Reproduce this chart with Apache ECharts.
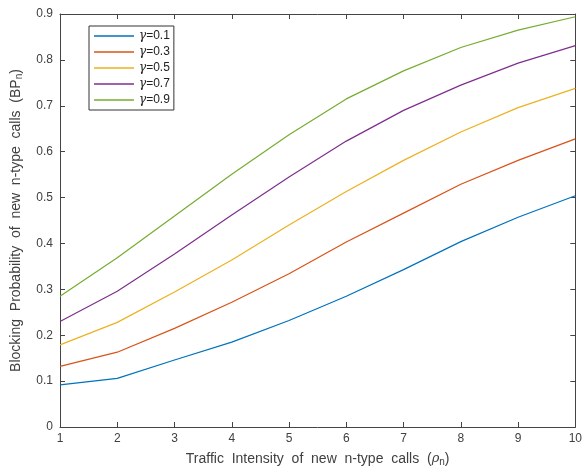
<!DOCTYPE html>
<html><head><meta charset="utf-8">
<script src="https://cdn.jsdelivr.net/npm/echarts@6/dist/echarts.min.js"></script>
<style>html,body{margin:0;padding:0;background:#fff}#c{width:585px;height:472px}</style>
</head><body><div id="c"></div>
<script>
var xValues = [1,2,3,4,5,6,7,8,9,10];
var gamma01 = [0.092,0.106,0.146,0.185,0.232,0.285,0.343,0.404,0.457,0.504];
var gamma03 = [0.132,0.163,0.215,0.272,0.334,0.403,0.466,0.529,0.581,0.628];
var gamma05 = [0.179,0.228,0.294,0.364,0.440,0.513,0.581,0.643,0.696,0.738];
var gamma07 = [0.230,0.296,0.377,0.462,0.545,0.623,0.690,0.745,0.793,0.831];
var gamma09 = [0.285,0.369,0.460,0.551,0.637,0.715,0.776,0.827,0.865,0.894];
var seriesNames = ['0.1','0.3','0.5','0.7','0.9'];
var seriesData = [gamma01,gamma03,gamma05,gamma07,gamma09];
var colors = ['#0072BD','#D95319','#EDB120','#7E2F8E','#77AC30'];

var font = 'Liberation Sans, Arial, sans-serif';
var axisColor = '#444';
var labelColor = '#404040';

var series = seriesNames.map(function(n,i){
  return {
    name: n, type: 'line', symbol: 'none', showSymbol: false, smooth: false,
    lineStyle: {width: 1.2, color: colors[i]}, itemStyle:{color: colors[i]},
    data: xValues.map(function(x,j){return [x, seriesData[i][j]];})
  };
});

var chart = echarts.init(document.getElementById('c'));
chart.setOption({
  animation: false,
  color: colors,
  grid: {left: 60, right: 7, top: 14, bottom: 44},
  legend: {
    orient: 'vertical', left: 89, top: 26,
    data: seriesNames,
    icon: 'rect',
    borderColor: '#333', borderWidth: 1, borderRadius: 0,
    padding: [3, 4, 3, 5],
    itemWidth: 40, itemHeight: 1.5, itemGap: 2,
    backgroundColor: '#fff',
    formatter: function(n){ return '{g|γ}=' + n; },
    textStyle: {fontFamily: font, fontSize: 12, color: '#222', lineHeight: 14, height: 14,
      rich: {g: {fontStyle: 'italic', fontFamily: 'DejaVu Serif, serif', fontSize: 12, color: '#222'}}}
  },
  xAxis: [{
    type: 'value', min: 1, max: 10, interval: 1, position: 'bottom',
    axisLine: {show: true, onZero: false, lineStyle: {color: axisColor, width: 1}},
    axisTick: {show: true, inside: true, length: 5, lineStyle: {color: axisColor}},
    axisLabel: {color: labelColor, fontFamily: font, fontSize: 12, margin: 6},
    splitLine: {show: false},
    name: 'Traffic  Intensity  of  new  n-type  calls  ({i|ρ}{s|n})',
    nameLocation: 'middle', nameGap: 24,
    nameTextStyle: {color: labelColor, fontFamily: font, fontSize: 14,
      rich: {i: {fontStyle: 'italic', fontFamily: 'DejaVu Serif, serif', fontSize: 13, color: labelColor},
             s: {fontSize: 10, color: labelColor, fontFamily: font, padding: [6,0,0,0]}}}
  },{
    type: 'value', min: 1, max: 10, interval: 1, position: 'top',
    axisLine: {show: true, onZero: false, lineStyle: {color: axisColor, width: 1}},
    axisTick: {show: true, inside: true, length: 5, lineStyle: {color: axisColor}},
    axisLabel: {show: false}, splitLine: {show: false}
  }],
  yAxis: [{
    type: 'value', min: 0, max: 0.9, interval: 0.1, position: 'left',
    axisLine: {show: true, onZero: false, lineStyle: {color: axisColor, width: 1}},
    axisTick: {show: true, inside: true, length: 5, lineStyle: {color: axisColor}},
    axisLabel: {color: labelColor, fontFamily: font, fontSize: 12, margin: 7,
      formatter: function(v){ return String(Math.round(v*10)/10); }},
    splitLine: {show: false},
    name: 'Blocking  Probability  of  new  n-type  calls  (BP{s|n})',
    nameLocation: 'middle', nameGap: 36, nameRotate: 90,
    nameTextStyle: {color: labelColor, fontFamily: font, fontSize: 14,
      rich: {s: {fontSize: 10, color: labelColor, fontFamily: font, padding: [6,0,0,0]}}}
  },{
    type: 'value', min: 0, max: 0.9, interval: 0.1, position: 'right',
    axisLine: {show: true, onZero: false, lineStyle: {color: axisColor, width: 1}},
    axisTick: {show: true, inside: true, length: 5, lineStyle: {color: axisColor}},
    axisLabel: {show: false}, splitLine: {show: false}
  }],
  series: series
});
</script></body></html>
